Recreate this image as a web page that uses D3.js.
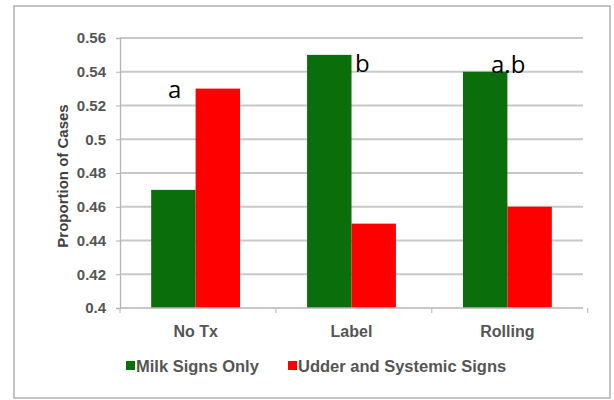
<!DOCTYPE html>
<html><head><meta charset="utf-8">
<script src="https://cdn.jsdelivr.net/npm/d3@7"></script>
<style>body{margin:0;background:#fff}svg{display:block}</style>
</head><body>
<svg id="c" width="614" height="400"></svg>
<script>
const categories = ["No Tx", "Label", "Rolling"];
const seriesNames = ["Milk Signs Only", "Udder and Systemic Signs"];
const milkSigns = [0.47, 0.55, 0.54];
const udderSigns = [0.53, 0.45, 0.46];
const sigLetters = ["a", "b", "a.b"];
const yTicks = [0.4, 0.42, 0.44, 0.46, 0.48, 0.5, 0.52, 0.54, 0.56];
const yTickLabels = ["0.4", "0.42", "0.44", "0.46", "0.48", "0.5", "0.52", "0.54", "0.56"];
const yTitle = "Proportion of Cases";

const colors = ["#0a6e0a", "#ff0000"];
const svg = d3.select("#c");
const font = "'Liberation Sans', Arial, sans-serif";

// frame
svg.append("rect").attr("x", 14).attr("y", 6).attr("width", 596).attr("height", 392)
  .attr("fill", "#fff").attr("stroke", "#b0b0b0").attr("stroke-width", 1.5);

const L = 120, R = 583, T = 38, B = 308;
const x = d3.scaleBand().domain(categories).range([L, R]).paddingInner(0.43).paddingOuter(0.2);
const xs = d3.scaleBand().domain(seriesNames).range([0, x.bandwidth()]);
const y = d3.scaleLinear().domain([0.4, 0.56]).range([B, T]);

// gridlines
svg.append("g").selectAll("line").data(yTicks.slice(1)).join("line")
  .attr("x1", L).attr("x2", R).attr("y1", d => y(d)).attr("y2", d => y(d))
  .attr("stroke", "#c8c8c8").attr("stroke-width", 1.8);

// y axis
const yAxis = d3.axisLeft(y).tickValues(yTicks).tickFormat((d, i) => yTickLabels[i]).tickSize(4).tickPadding(10);
const gy = svg.append("g").attr("transform", `translate(${L},0)`).call(yAxis);
gy.select(".domain").attr("stroke", "#b5b5b5").attr("stroke-width", 1.3);
gy.selectAll(".tick line").attr("stroke", "#b5b5b5");
gy.selectAll("text").attr("font-family", font).attr("font-size", 15).attr("font-weight", "bold").attr("fill", "#555");

// bars
const groups = svg.append("g").selectAll("g").data(categories).join("g")
  .attr("transform", d => `translate(${x(d)},0)`);
groups.selectAll("rect").data((d, i) => [milkSigns[i], udderSigns[i]].map((v, k) => ({v, k})))
  .join("rect")
  .attr("x", d => xs(seriesNames[d.k]))
  .attr("width", xs.bandwidth())
  .attr("y", d => y(d.v))
  .attr("height", d => B - y(d.v))
  .attr("fill", d => colors[d.k]);

// x axis
const step = x.step();
const bounds = [0, 1, 2, 3].map(i => L + i * step);
svg.append("line").attr("x1", L).attr("x2", R).attr("y1", B).attr("y2", B)
  .attr("stroke", "#b5b5b5").attr("stroke-width", 1.3);
svg.append("g").selectAll("line").data(bounds).join("line")
  .attr("x1", d => d).attr("x2", d => d).attr("y1", B).attr("y2", B + 5)
  .attr("stroke", "#b5b5b5");
svg.append("g").selectAll("text").data(categories).join("text")
  .attr("x", d => x(d) + x.bandwidth() / 2).attr("y", 337)
  .attr("text-anchor", "middle").attr("font-family", font).attr("font-size", 16)
  .attr("font-weight", "bold").attr("fill", "#555").text(d => d);

// y title
svg.append("text").attr("transform", "translate(68,176) rotate(-90)")
  .attr("text-anchor", "middle").attr("font-family", font).attr("font-size", 15)
  .attr("font-weight", "bold").attr("fill", "#404040").text(yTitle);

// significance letters
const letterX = [168, 355, 491];
const letterY = [98, 72, 73];
svg.append("g").selectAll("text").data(sigLetters).join("text")
  .attr("x", (d, i) => letterX[i]).attr("y", (d, i) => letterY[i])
  .attr("font-family", "'Open Sans', 'Liberation Sans', sans-serif").attr("font-size", 24)
  .attr("fill", "#000").text(d => d);

// legend
const legX = [126, 288];
const leg = svg.append("g").selectAll("g").data(seriesNames).join("g")
  .attr("transform", (d, i) => `translate(${legX[i]},361)`);
leg.append("rect").attr("width", 9).attr("height", 9).attr("fill", (d, i) => colors[i]);
leg.append("text").attr("x", 10).attr("y", 10.5).attr("font-family", font).attr("font-size", 16.5)
  .attr("font-weight", "bold").attr("fill", "#555").text(d => d);
</script>
</body></html>
